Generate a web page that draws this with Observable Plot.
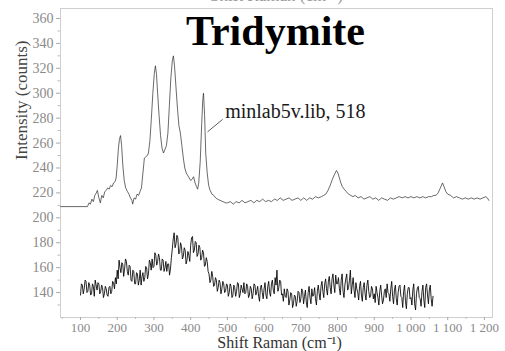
<!DOCTYPE html>
<html>
<head>
<meta charset="utf-8">
<script src="https://cdn.jsdelivr.net/npm/d3@7"></script>
<script src="https://cdn.jsdelivr.net/npm/@observablehq/plot@0.6"></script>
<style>
  html, body { margin: 0; padding: 0; background: #fff; }
  #chart svg { display: block; }
</style>
</head>
<body>
<div id="chart"></div>
<script>
// ---- data ----
const title = "Tridymite";
const xLabel = "Shift Raman (cm⁻¹)";
const yLabel = "Intensity (counts)";
const refLabel = "minlab5v.lib, 518";

const xTicks = [100, 200, 300, 400, 500, 600, 700, 800, 900, 1000, 1100, 1200];
const xMinor = [50, 150, 250, 350, 450, 550, 650, 750, 850, 950, 1050, 1150];
const yTicks = [140, 160, 180, 200, 220, 240, 260, 280, 300, 320, 340, 360];
const yMinor = [130, 150, 170, 190, 210, 230, 250, 270, 290, 310, 330, 350];

// reference spectrum (shift, intensity)
const referenceSpectrum = [
  [46,209],[119,209],[123,212],[127,211],[131,215],[135,213],[139,218],[143,220],[146,222],[150,216],
  [154,212],[158,218],[162,216],[166,221],[170,222],[174,224],[178,223],[182,226],[186,225],[190,228],
  [194,229],[197,232],[200,242],[203,255],[206,263],[209,266],[212,258],[215,243],[219,230],[223,224],
  [228,221],[232,219],[236,216],[240,214],[242,211],[246,216],[250,215],[254,219],[258,218],[262,221],
  [266,224],[270,236],[274,248],[278,249],[282,250],[285,252],[289,262],[293,280],[297,300],[301,316],
  [304,322],[307,315],[310,300],[314,282],[318,266],[322,256],[326,252],[330,255],[334,258],[338,268],
  [342,290],[346,312],[350,326],[353,330],[356,322],[360,305],[364,288],[368,274],[372,268],[376,258],
  [380,248],[384,240],[388,236],[392,234],[396,232],[400,230],[404,231],[408,233],[412,228],[416,225],
  [419,223],[422,228],[426,245],[430,275],[433,295],[435,300],[438,282],[441,252],[445,236],[449,226],
  [453,222],[458,219],[463,218],[468,216],[473,215],[480,214],[488,213],[495,212],[500,212],[508,213],
  [516,211],[524,213],[532,212],[540,214],[548,212],[556,213],[564,214],[572,212],[580,214],[588,213],
  [596,215],[604,213],[612,214],[620,213],[628,215],[636,214],[644,216],[652,214],[660,215],[668,216],
  [676,214],[684,215],[692,216],[700,214],[708,216],[716,214],[724,216],[732,215],[740,217],[748,216],
  [756,217],[762,218],[768,219],[774,222],[780,226],[786,231],[792,235],[797,238],[801,236],[805,232],
  [809,228],[813,225],[818,223],[824,221],[830,219],[836,218],[842,217],[848,218],[856,216],[864,217],
  [872,215],[880,216],[888,217],[896,215],[904,216],[912,214],[920,216],[928,215],[936,214],[944,216],
  [952,215],[960,216],[968,217],[976,216],[984,217],[992,216],[1000,217],[1008,216],[1016,217],[1024,216],
  [1032,217],[1040,216],[1048,217],[1056,217],[1062,218],[1068,218],[1074,220],[1080,224],[1086,228],
  [1090,225],[1095,221],[1100,219],[1108,218],[1116,216],[1124,217],[1132,216],[1140,215],[1148,216],
  [1156,215],[1164,216],[1172,215],[1180,216],[1188,215],[1196,216],[1204,217],[1208,216],[1212,214]
];

// measured spectrum: intensities sampled every 2.5 cm-1 from 100 cm-1
const sampleStart = 100;
const sampleStep = 2.5;
const sampleIntensity = [
  138,147,146,139,143,150,149,140,141,148,146,138,139,147,145,137,150,146,142,148,
  147,139,141,146,144,136,139,145,143,138,137,144,145,139,141,149,148,143,152,147,
  158,151,166,160,156,164,163,153,159,167,165,157,154,162,161,150,149,158,157,147,
  147,156,155,146,150,158,146,153,156,149,152,161,160,151,155,166,164,158,167,160,
  161,172,170,162,165,171,168,158,158,167,166,157,160,165,157,163,163,154,159,168,
  175,183,188,176,179,186,184,171,172,180,177,167,169,176,174,163,166,173,170,165,
  178,184,185,172,174,181,180,169,171,178,176,166,168,174,172,161,162,168,165,157,
  155,148,150,157,153,145,146,152,150,141,144,150,148,139,143,149,147,140,141,147,
  146,137,140,147,145,136,138,146,144,137,141,148,147,136,139,146,143,140,148,139,
  140,147,145,136,138,145,143,135,139,147,146,138,141,145,137,133,144,146,140,135,
  143,148,138,135,145,149,140,137,147,150,142,139,152,146,158,141,144,150,149,138,
  139,133,143,137,136,143,141,130,134,140,139,128,131,138,137,129,133,141,140,132,
  135,143,141,131,137,142,132,128,140,145,136,131,143,137,138,144,135,130,141,146,
  139,134,145,149,141,136,147,151,143,138,149,153,144,139,151,155,146,140,154,147,
  147,152,143,138,150,155,141,136,146,151,155,142,144,150,158,139,146,152,142,136,
  148,143,140,134,145,149,138,133,144,148,139,134,146,150,141,136,137,145,143,135,
  139,132,145,140,136,130,141,146,138,131,134,141,143,136,147,140,139,133,143,149,
  137,131,142,146,135,130,140,145,146,137,136,128,141,146,133,127,139,144,144,135,
  136,130,142,147,131,126,139,144,145,136,135,129,141,146,134,128,144,147,138,131,
  142,146,135,129,137
];

// annotation leader (from label to peak)
const leader = [{x1: 487, y1: 279, x2: 446, y2: 269}];
const labelAnchor = [{x: 494, y: 285.5}];

// ---- build ----
const measured = sampleIntensity.map((v, i) => ({shift: sampleStart + i * sampleStep, intensity: v}));
const fmt = d3.formatLocale({decimal: ".", thousands: " ", grouping: [3], currency: ["", ""]}).format(",");
const serif = "'Liberation Serif', 'Times New Roman', serif";

const chart = Plot.plot({
  width: 505,
  height: 351,
  marginLeft: 60,
  marginRight: 13,
  marginTop: 8,
  marginBottom: 34,
  style: {fontFamily: serif, background: "#fff", overflow: "visible"},
  x: {domain: [45.5, 1222], axis: null},
  y: {domain: [120, 368], axis: null},
  marks: [
    Plot.frame({stroke: "#cfcfcf"}),
    Plot.axisX(xTicks, {tickSize: 3, tickPadding: 2, tickFormat: fmt, stroke: "#aaa", fill: "#8a8a8a", fontSize: 13, fontFamily: serif}),
    Plot.axisX(xMinor, {tickSize: 2, tickFormat: () => "", stroke: "#bbb"}),
    Plot.axisY(yTicks, {tickSize: 4, tickPadding: 3, stroke: "#aaa", fill: "#8a8a8a", fontSize: 14, fontFamily: serif}),
    Plot.axisY(yMinor, {tickSize: 2.5, tickFormat: () => "", stroke: "#bbb"}),
    Plot.line(referenceSpectrum, {x: d => d[0], y: d => d[1], stroke: "#2a2a2a", strokeWidth: 0.7}),
    Plot.line(measured, {x: "shift", y: "intensity", stroke: "#000", strokeWidth: 0.85}),
    Plot.link(leader, {x1: "x1", y1: "y1", x2: "x2", y2: "y2", stroke: "#333", strokeWidth: 0.8}),
    Plot.text(labelAnchor, {x: "x", y: "y", text: () => refLabel, textAnchor: "start", fontSize: 20, fill: "#1a1a1a", fontFamily: serif}),
    Plot.text([title], {frameAnchor: "top", dx: -1, dy: 7, lineAnchor: "top", fontSize: 42, fontWeight: "bold", fill: "#000", fontFamily: serif}),
    Plot.text([xLabel], {frameAnchor: "bottom", dx: 3, dy: 25.5, lineAnchor: "middle", fontSize: 16, fill: "#333", fontFamily: serif}),
    Plot.text([xLabel], {frameAnchor: "top", dx: 0, dy: -13, lineAnchor: "middle", fontSize: 17, fill: "#999", fontFamily: serif}),
    Plot.text([yLabel], {frameAnchor: "left", dx: -39, dy: -3, rotate: -90, lineAnchor: "middle", fontSize: 17, fill: "#444", fontFamily: serif})
  ]
});
document.getElementById("chart").appendChild(chart);
</script>
</body>
</html>
